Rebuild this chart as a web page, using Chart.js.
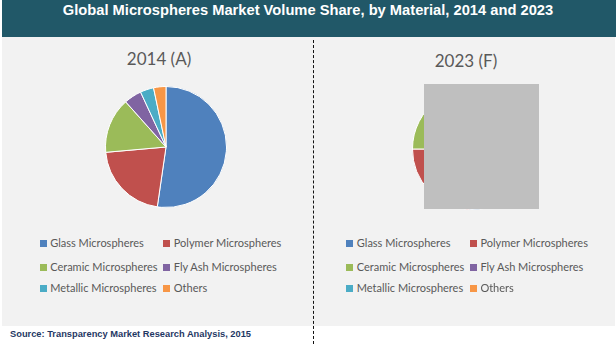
<!DOCTYPE html>
<html>
<head>
<meta charset="utf-8">
<script src="https://cdn.jsdelivr.net/npm/chart.js@4.4.1/dist/chart.umd.min.js"></script>
<style>
  html, body { margin: 0; padding: 0; background: #ffffff; }
  #page { position: relative; width: 616px; height: 344px; overflow: hidden; background: #ffffff; }
  #header { position: absolute; left: 2px; top: 0; width: 614px; height: 37px; background: #215868; }
  #header-text { position: absolute; left: -2px; top: 2px; width: 616px; height: 21px; line-height: 21px;
    text-align: center; color: #ffffff; font: bold 14.7px "Liberation Sans", Arial, sans-serif; }
  #panel { position: absolute; left: 2px; top: 37px; width: 613px; height: 289px; background: #f2f2f2; }
  #divider { position: absolute; left: 313px; top: 40px; width: 0; height: 304px; border-left: 1.5px dashed #111; }
  .pie-title { position: absolute; width: 120px; text-align: center; color: #595959;
    font: 17px Lato, "Open Sans", sans-serif; line-height: 20px; }
  .pie-box { position: absolute; width: 122px; height: 122px; }
  .legend-item { position: absolute; height: 14px; line-height: 14px; color: #595959;
    font: 11px Lato, "Open Sans", sans-serif; white-space: nowrap; }
  .legend-item span.sw { position: absolute; left: 0; top: 3.5px; width: 7px; height: 7px; }
  .legend-item span.tx { position: absolute; left: 10.5px; top: 0; }
  #mask { position: absolute; left: 424px; top: 84px; width: 115px; height: 125px; background: #bfbfbf; }
  #source { position: absolute; left: 10px; top: 329px; height: 12px; line-height: 12px; color: #1f3864;
    font: bold 9.3px "Liberation Sans", Arial, sans-serif; white-space: nowrap; }
</style>
</head>
<body>
<div id="page">
  <div id="header"><div id="header-text">Global Microspheres Market Volume Share, by Material, 2014 and 2023</div></div>
  <div id="panel"></div>
  <div id="divider"></div>

  <div class="pie-title" id="title-a" style="left:99px; top:49px;"></div>
  <div class="pie-title" id="title-b" style="left:406px; top:51px;"></div>

  <div class="pie-box" style="left:105px; top:86px;"><canvas id="pie-a" width="122" height="122"></canvas></div>
  <div class="pie-box" style="left:411.5px; top:88px;"><canvas id="pie-b" width="122" height="122"></canvas></div>

  <div id="mask"></div>
  <div id="legend-a"></div>
  <div id="legend-b"></div>

  <div id="source">Source: Transparency Market Research Analysis, 2015</div>
</div>

<script>
// Material categories and volume shares (%)
const materials = [
  'Glass Microspheres',
  'Polymer Microspheres',
  'Ceramic Microspheres',
  'Fly Ash Microspheres',
  'Metallic Microspheres',
  'Others'
];
const share2014 = [52.3, 21.3, 14.8, 4.7, 3.6, 3.3];
const share2023 = [51.0, 24.0, 15.0, 4.5, 3.5, 2.0];
const periodLabels = ['2014 (A)', '2023 (F)'];
const sliceColors = ['#4f81bd', '#c0504d', '#9bbb59', '#8064a2', '#4bacc6', '#f79646'];

function makePie(canvasId, values) {
  return new Chart(document.getElementById(canvasId), {
    type: 'pie',
    data: {
      labels: materials,
      datasets: [{
        data: values,
        backgroundColor: sliceColors,
        borderColor: '#ffffff',
        borderWidth: 1
      }]
    },
    options: {
      responsive: false,
      animation: false,
      layout: { padding: 0 },
      plugins: { legend: { display: false }, tooltip: { enabled: false }, title: { display: false } }
    }
  });
}

makePie('pie-a', share2014);
makePie('pie-b', share2023);

document.getElementById('title-a').textContent = periodLabels[0];
document.getElementById('title-b').textContent = periodLabels[1];

// Two-column legend grid under each pie
const rowTops = [236, 260, 281];
function buildLegend(containerId, left) {
  const box = document.getElementById(containerId);
  materials.forEach((name, i) => {
    const col = i % 2, row = Math.floor(i / 2);
    const item = document.createElement('div');
    item.className = 'legend-item';
    item.style.left = (left + col * 123.6) + 'px';
    item.style.top = rowTops[row] + 'px';
    const sw = document.createElement('span');
    sw.className = 'sw';
    sw.style.background = sliceColors[i];
    const tx = document.createElement('span');
    tx.className = 'tx';
    tx.textContent = name;
    item.appendChild(sw);
    item.appendChild(tx);
    box.appendChild(item);
  });
}
buildLegend('legend-a', 39.7);
buildLegend('legend-b', 346.3);
</script>
</body>
</html>
